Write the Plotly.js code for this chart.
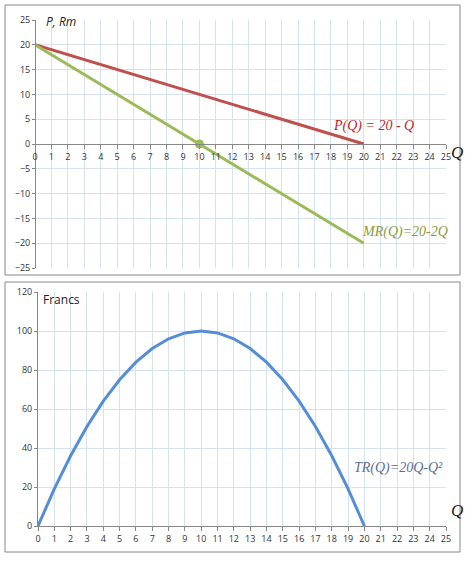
<!DOCTYPE html><html><head><script src="https://cdn.plot.ly/plotly-3.0.1.min.js"></script>
<style>body{margin:0}</style></head><body><div id="g" style="width:473px;height:562px"></div><script>
const Q=[0,1,2,3,4,5,6,7,8,9,10,11,12,13,14,15,16,17,18,19,20];
const P=[20,19,18,17,16,15,14,13,12,11,10,9,8,7,6,5,4,3,2,1,0];
const MR=[20,18,16,14,12,10,8,6,4,2,0,-2,-4,-6,-8,-10,-12,-14,-16,-18,-20];
const TR=[0,19,36,51,64,75,84,91,96,99,100,99,96,91,84,75,64,51,36,19,0];
const W=473,H=562;
const px=v=>v/W, py=v=>1-v/H;
const grid='#d6e2f2';
const tf={family:'Open Sans, sans-serif',size:9,color:'#333'};
const ax={showline:false,zeroline:false,gridcolor:grid,ticks:'outside',ticklen:3,tickcolor:'#888',tickfont:tf,fixedrange:true};
const traces=[
{x:Q,y:P,mode:'lines',line:{color:'#c0504d',width:3},xaxis:'x',yaxis:'y'},
{x:Q,y:MR,mode:'lines',line:{color:'#9bbb59',width:3},xaxis:'x',yaxis:'y'},
{x:[10],y:[0],mode:'markers',marker:{color:'#9bbb59',size:9},xaxis:'x',yaxis:'y'},
{x:Q,y:TR,mode:'lines',line:{color:'#558ed5',width:3},xaxis:'x2',yaxis:'y2'}
];
const t1=py(20),b1=py(268),t2=py(292),b2=py(526);
const layout={width:W,height:H,margin:{l:0,r:0,t:0,b:0},showlegend:false,paper_bgcolor:'#fff',plot_bgcolor:'#fff',
xaxis:Object.assign({},ax,{domain:[px(35),px(446)],range:[0,25],dtick:1,anchor:'free',position:(t1+b1)/2,showline:true,linecolor:'#888',ticks:'outside',ticklen:4}),
yaxis:Object.assign({},ax,{domain:[b1,t1],range:[-25,25],dtick:5,anchor:'free',position:px(35),showline:true,linecolor:'#888',showgrid:true}),
xaxis2:Object.assign({},ax,{domain:[px(38),px(446)],range:[0,25],dtick:1,anchor:'y2',showline:true,linecolor:'#888',ticklen:4}),
yaxis2:Object.assign({},ax,{domain:[b2,t2],range:[0,120],dtick:20,anchor:'x2',showline:true,linecolor:'#888'}),
shapes:[
{type:'rect',xref:'paper',yref:'paper',x0:px(5),x1:px(460),y0:py(275),y1:py(5),line:{color:'#888',width:1}},
{type:'rect',xref:'paper',yref:'paper',x0:px(5),x1:px(460),y0:py(552),y1:py(282),line:{color:'#888',width:1}}
],
annotations:[
{xref:'paper',yref:'paper',x:px(44),y:py(21),xanchor:'left',yanchor:'middle',text:'<i>P, Rm</i>',showarrow:false,font:{family:'Open Sans, sans-serif',size:12,color:'#222'}},
{xref:'paper',yref:'paper',x:px(41),y:py(300),xanchor:'left',yanchor:'middle',text:'Francs',showarrow:false,font:{family:'Open Sans, sans-serif',size:12,color:'#222'}},
{xref:'x',yref:'y',x:20.6,y:3.6,text:'<i>P(Q) = 20 - Q</i>',showarrow:false,font:{family:'Liberation Serif, serif',size:14,color:'#c0252b'}},
{xref:'x',yref:'y',x:22.5,y:-17.8,text:'<i>MR(Q)=20-2Q</i>',showarrow:false,font:{family:'Liberation Serif, serif',size:14,color:'#8a9a3c'}},
{xref:'x2',yref:'y2',x:22.1,y:30,text:'<i>TR(Q)=20Q-Q²</i>',showarrow:false,font:{family:'Liberation Serif, serif',size:14,color:'#5a6f8f'}},
{xref:'paper',yref:'paper',x:px(449),y:py(141),xanchor:'left',text:'<i>Q</i>',showarrow:false,font:{family:'Liberation Serif, serif',size:17,color:'#222'}},
{xref:'paper',yref:'paper',x:px(449),y:py(522),xanchor:'left',text:'<i>Q</i>',showarrow:false,font:{family:'Liberation Serif, serif',size:17,color:'#222'}}
]};
Plotly.newPlot('g',traces,layout,{displayModeBar:false,staticPlot:true});
</script></body></html>
